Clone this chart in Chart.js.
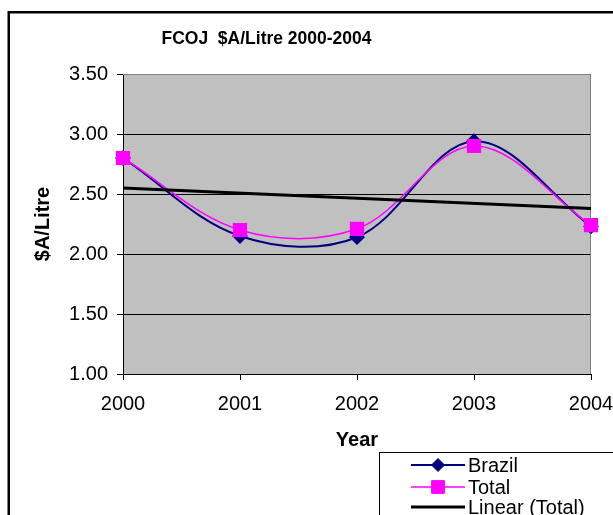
<!DOCTYPE html>
<html><head><meta charset="utf-8">
<script src="https://cdn.jsdelivr.net/npm/chart.js@4"></script>
<style>html,body{margin:0;padding:0;background:#fff;overflow:hidden}</style>
</head><body>
<canvas id="c" width="613" height="515" style="width:613px;height:515px;display:block"></canvas>
<script>
const chartTitle = 'FCOJ  $A/Litre 2000-2004';
const xAxisTitle = 'Year';
const yAxisTitle = '$A/Litre';
const years = ['2000', '2001', '2002', '2003', '2004'];
const brazil = [2.80, 2.15, 2.14, 2.94, 2.23];
const total = [2.80, 2.20, 2.21, 2.90, 2.24];
const linearTotal = [2.55, null, null, null, 2.38];
const yMin = 1.0, yMax = 3.5, yStep = 0.5;

const FONT = "'Liberation Sans', Arial, sans-serif";

const decor = {
  id: 'decor',
  beforeDraw(chart) {
    const ctx = chart.ctx, a = chart.chartArea;
    ctx.save();
    ctx.fillStyle = '#fff';
    ctx.fillRect(0, 0, chart.width, chart.height);
    ctx.strokeStyle = '#000';
    ctx.lineWidth = 2.5;
    ctx.strokeRect(8.75, 12.25, 700, 600);
    ctx.fillStyle = '#C0C0C0';
    ctx.fillRect(a.left, a.top, a.right - a.left, a.bottom - a.top);
    ctx.fillStyle = '#000';
    ctx.font = 'bold 17.5px ' + FONT;
    ctx.textAlign = 'center';
    ctx.textBaseline = 'middle';
    ctx.fillText(chartTitle, 266.5, 39.5);
    ctx.restore();
  },
  beforeDatasetsDraw(chart) {
    const ctx = chart.ctx, a = chart.chartArea;
    ctx.save();
    ctx.strokeStyle = '#808080';
    ctx.lineWidth = 1;
    ctx.beginPath();
    ctx.moveTo(a.left, a.top + 0.5);
    ctx.lineTo(a.right - 0.5, a.top + 0.5);
    ctx.lineTo(a.right - 0.5, a.bottom);
    ctx.stroke();
    ctx.restore();
  },
  afterDraw(chart) {
    const ctx = chart.ctx;
    ctx.save();
    ctx.fillStyle = '#fff';
    ctx.fillRect(379.5, 452.5, 300, 100);
    ctx.strokeStyle = '#000';
    ctx.lineWidth = 1;
    ctx.strokeRect(379.5, 452.5, 300, 100);
    const rows = [465, 487, 507];
    ctx.font = '20px ' + FONT;
    ctx.textAlign = 'left';
    ctx.textBaseline = 'middle';
    chart.data.datasets.forEach((ds, i) => {
      const y = rows[i];
      ctx.strokeStyle = ds.borderColor;
      ctx.lineWidth = ds.borderWidth;
      ctx.beginPath();
      ctx.moveTo(411, y);
      ctx.lineTo(465, y);
      ctx.stroke();
      if (ds.pointRadius > 0) {
        ctx.fillStyle = ds.pointBackgroundColor;
        ctx.strokeStyle = ds.pointBorderColor;
        ctx.lineWidth = 1;
        ctx.beginPath();
        if (ds.pointStyle === 'rectRot') {
          const r = ds.pointRadius;
          ctx.moveTo(438, y - r); ctx.lineTo(438 + r, y); ctx.lineTo(438, y + r); ctx.lineTo(438 - r, y); ctx.closePath();
        } else {
          const s = ds.pointRadius * Math.SQRT2;
          ctx.rect(438 - s / 2, y - s / 2, s, s);
        }
        ctx.fill();
        ctx.stroke();
      }
      ctx.fillStyle = '#000';
      ctx.fillText(ds.label, 468, y + 1);
    });
    ctx.restore();
  }
};

new Chart(document.getElementById('c'), {
  type: 'line',
  data: {
    labels: years,
    datasets: [
      {
        label: 'Brazil', data: brazil, borderColor: '#000080', borderWidth: 2,
        pointStyle: 'rectRot', pointRadius: 6.5, pointBackgroundColor: '#000080', pointBorderColor: '#000080',
        tension: 0.35, clip: false, order: 3
      },
      {
        label: 'Total', data: total, borderColor: '#FF00FF', borderWidth: 1.5,
        pointStyle: 'rect', pointRadius: 9, pointBackgroundColor: '#FF00FF', pointBorderColor: '#FF00FF',
        tension: 0.35, clip: false, order: 2
      },
      {
        label: 'Linear (Total)', data: linearTotal, borderColor: '#000000', borderWidth: 3,
        pointRadius: 0, spanGaps: true, tension: 0, clip: false, order: 1
      }
    ]
  },
  options: {
    responsive: false,
    animation: false,
    devicePixelRatio: 1,
    layout: { padding: { top: 74, right: 22, left: 0, bottom: 0 } },
    plugins: { legend: { display: false }, title: { display: false }, tooltip: { enabled: false } },
    scales: {
      x: {
        type: 'category',
        offset: false,
        afterFit(s) { s.height = 141; s.paddingLeft = 0; s.paddingRight = 0; },
        grid: { drawOnChartArea: false, drawTicks: true, tickLength: 6, color: '#000', lineWidth: 1 },
        border: { display: true, color: '#000', width: 1 },
        ticks: { color: '#000', font: { family: FONT, size: 20 }, padding: 12, maxRotation: 0, autoSkip: false },
        title: { display: true, text: xAxisTitle, color: '#000', font: { family: FONT, size: 20, weight: 'bold' }, padding: { top: 0, bottom: 63 } }
      },
      y: {
        min: yMin, max: yMax,
        afterFit(s) { s.width = 123; s.paddingTop = 0; s.paddingBottom = 0; },
        grid: { color: '#000', lineWidth: 1, drawTicks: true, tickLength: 6 },
        border: { display: true, color: '#000', width: 1 },
        ticks: { stepSize: yStep, color: '#000', font: { family: FONT, size: 20 }, padding: 9, callback: v => v.toFixed(2) },
        title: { display: true, text: yAxisTitle, color: '#000', font: { family: FONT, size: 20, weight: 'bold' }, padding: { top: 31, bottom: 0 } }
      }
    }
  },
  plugins: [decor]
});
</script>
</body></html>
